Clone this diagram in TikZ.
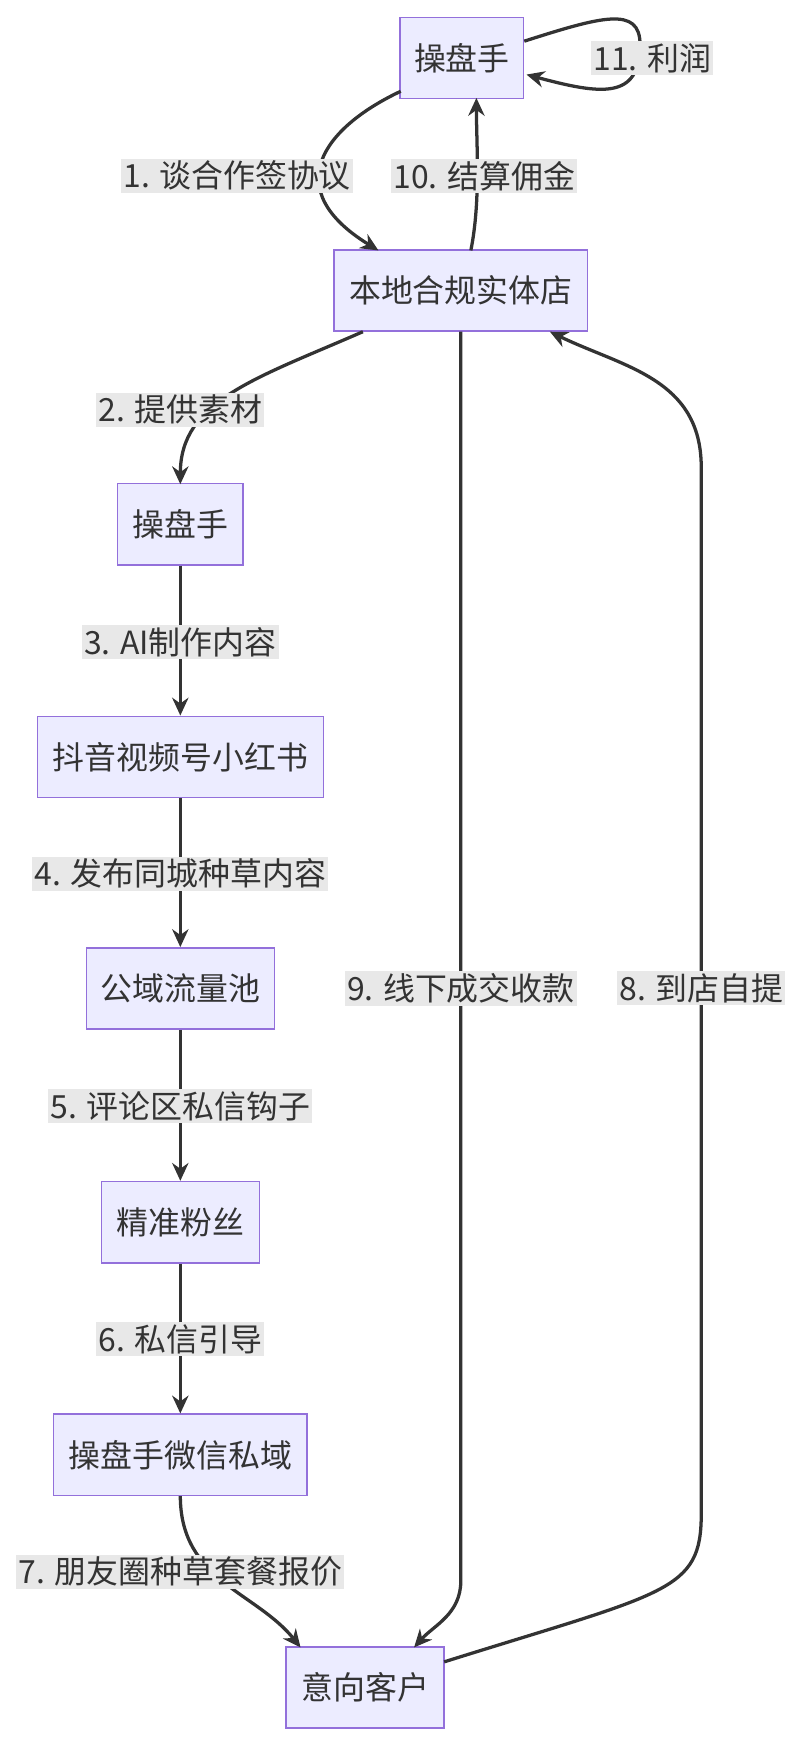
\documentclass[tikz,border=0pt]{standalone}
\usepackage{fontspec}
\setmainfont{Noto Sans CJK SC}
\usetikzlibrary{arrows.meta}
\definecolor{nf}{HTML}{ECECFF}
\definecolor{nb}{HTML}{9370DB}
\definecolor{ln}{HTML}{333333}
\definecolor{lb}{HTML}{E8E8E8}
\begin{document}
\begin{tikzpicture}[x=0.75pt,y=-0.75pt,
 box/.style={draw=nb,fill=nf,line width=1pt,minimum height=73*0.75pt,inner sep=0pt,font=\fontsize{21.5}{24}\selectfont,text=ln},
 lab/.style={fill=lb,inner sep=1.5pt,font=\fontsize{21.5}{24}\selectfont,text=ln},
 e/.style={draw=ln,line width=2.2pt,-{Stealth[length=12pt,width=11pt]}}]
\useasboundingbox (0,0) rectangle (720,1565);
\node[box,minimum width=111*0.75pt] (a) at (415,52) {操盘手};
\node[box,minimum width=228*0.75pt] (b) at (414,261) {本地合规实体店};
\node[box,minimum width=113*0.75pt] (c) at (162,471) {操盘手};
\node[box,minimum width=257*0.75pt] (d) at (162,680) {抖音视频号小红书};
\node[box,minimum width=169*0.75pt] (f) at (162,888) {公域流量池};
\node[box,minimum width=142*0.75pt] (g) at (162,1098) {精准粉丝};
\node[box,minimum width=228*0.75pt] (h) at (162,1307) {操盘手微信私域};
\node[box,minimum width=142*0.75pt] (k) at (328,1516) {意向客户};
\draw[e] (360,82) .. controls (290,115) and (250,170) .. (340,225);
\node[lab] at (213,158) {1. 谈合作签协议};
\draw[e] (423,225) .. controls (432,180) and (428,130) .. (428,88);
\node[lab] at (435,158) {10. 结算佣金};
\draw[e] (471,37) .. controls (540,15) and (575,5) .. (575,40) .. controls (575,90) and (540,85) .. (473,67);
\node[lab] at (586,52) {11. 利润};
\draw[e] (326,298) .. controls (230,340) and (162,360) .. (162,435);
\node[lab] at (162,368) {2. 提供素材};
\draw[e] (c) -- (d); \node[lab] at (162,577) {3. AI制作内容};
\draw[e] (d) -- (f); \node[lab] at (162,785) {4. 发布同城种草内容};
\draw[e] (f) -- (g); \node[lab] at (162,994) {5. 评论区私信钩子};
\draw[e] (g) -- (h); \node[lab] at (162,1203) {6. 私信引导};
\draw[e] (162,1344) .. controls (162,1420) and (230,1430) .. (270,1480);
\node[lab] at (162,1412) {7. 朋友圈种草套餐报价};
\draw[e] (414,298) -- (414,1420) .. controls (414,1450) and (390,1460) .. (372,1480);
\node[lab] at (414,888) {9. 线下成交收款};
\draw[e] (399,1493) .. controls (600,1430) and (630,1430) .. (630,1360) -- (630,420) .. controls (630,340) and (560,330) .. (494,298);
\node[lab] at (630,888) {8. 到店自提};
\end{tikzpicture}
\end{document}
